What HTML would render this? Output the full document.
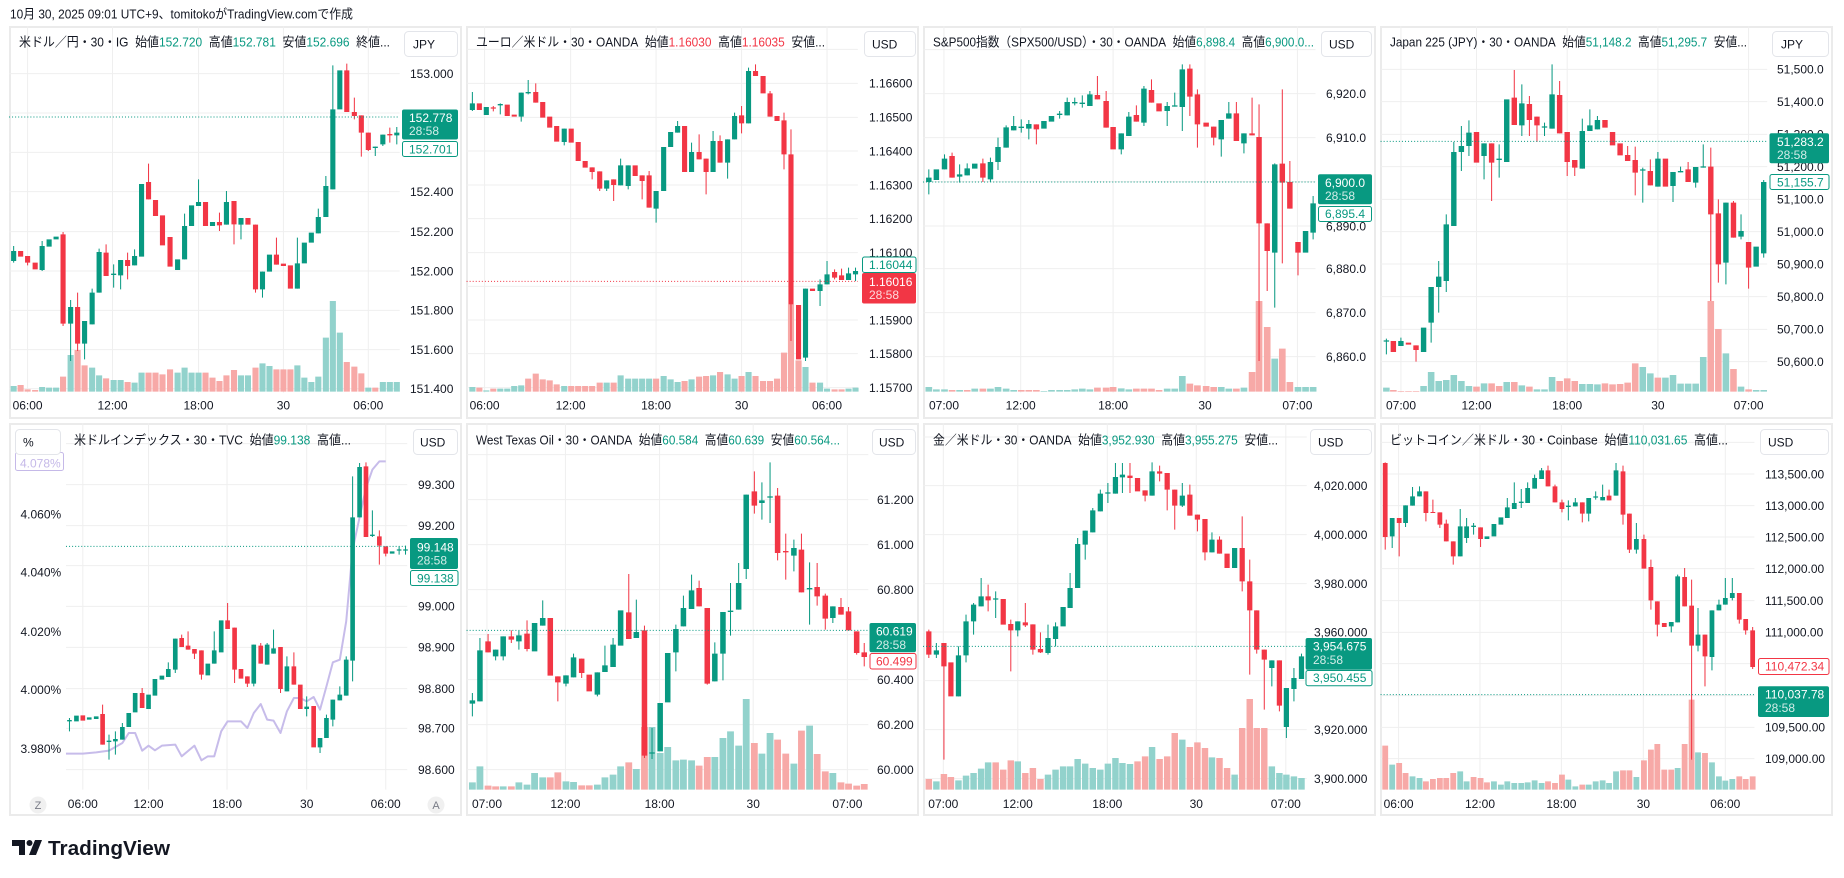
<!DOCTYPE html>
<html><head><meta charset="utf-8"><title>TradingView snapshot</title>
<style>
html,body{margin:0;padding:0;background:#fff;}
svg{display:block;}
text{font-family:"Liberation Sans","Noto Sans CJK JP",sans-serif;}
</style></head><body>
<svg width="1844" height="878" viewBox="0 0 1844 878" xmlns="http://www.w3.org/2000/svg">
<rect width="1844" height="878" fill="#fff"/>
<text x="10" y="18.5" font-size="13" fill="#131722" textLength="343" lengthAdjust="spacingAndGlyphs">10月 30, 2025 09:01 UTC+9、tomitokoがTradingView.comで作成</text>

<g fill="#fff" stroke="#ebebeb" stroke-width="2">
<rect x="10" y="27" width="451" height="391"/>
<rect x="467" y="27" width="451" height="391"/>
<rect x="924" y="27" width="451" height="391"/>
<rect x="1381" y="27" width="451" height="391"/>
<rect x="10" y="424" width="451" height="391"/>
<rect x="467" y="424" width="451" height="391"/>
<rect x="924" y="424" width="451" height="391"/>
<rect x="1381" y="424" width="451" height="391"/>
</g>

<!-- ===== Group A: panels 1 & 2 ===== -->
<g transform="matrix(0.5814 0 0 0.33333 9 26)" fill="none" stroke-linecap="butt">
<path stroke="#efefef" stroke-width="3" d="M0 143H672M0 261H672M0 379H672M0 497H672M0 617H672M0 735H672M0 853H672M0 971H672M0 1088H672M787 70H1460M787 172H1460M787 274H1460M787 375H1460M787 477H1460M787 578H1460M787 680H1460M787 781H1460M787 882H1460M787 983H1460M787 1085H1460"/>
<path stroke="#efefef" stroke-width="1.75" d="M32 0V1100M178 0V1100M326 0V1100M472 0V1100M618 0V1100M818 0V1100M966 0V1100M1113 0V1100M1260 0V1100M1407 0V1100"/>
<!-- P1 volume -->
<path stroke="#92d2cc" stroke-width="10.5" d="M8 1080V1097M57 1083V1097M69 1085V1097M81 1085V1097M106 987V1097M143 1025V1097M155 1048V1097M180 1062V1097M192 1062V1097M216 1070V1097M228 1040V1097M290 1040V1097M302 1025V1097M314 1040V1097M326 1040V1097M399 1048V1097M411 1048V1097M436 1012V1097M448 1020V1097M496 1018V1097M508 1055V1097M520 1068V1097M532 1052V1097M545 935V1097M557 825V1097M569 920V1097M618 1085V1097M643 1068V1097M655 1068V1097M667 1068V1097"/>
<path stroke="#f7a9a7" stroke-width="10.5" d="M20 1077V1097M32 1090V1097M45 1092V1097M93 1052V1097M118 972V1097M130 1018V1097M167 1057V1097M204 1068V1097M240 1040V1097M252 1040V1097M264 1045V1097M277 1030V1097M338 1040V1097M350 1055V1097M362 1065V1097M374 1048V1097M387 1032V1097M424 1025V1097M460 1030V1097M472 1030V1097M484 1030V1097M581 1008V1097M594 1022V1097M606 1042V1097M630 1085V1097"/>
<!-- P2 volume -->
<path stroke="#92d2cc" stroke-width="10.5" d="M797 1083V1097M821 1093V1097M845 1088V1097M857 1088V1097M869 1080V1097M881 1078V1097M955 1080V1097M1028 1070V1097M1052 1048V1097M1065 1058V1097M1077 1058V1097M1089 1058V1097M1101 1058V1097M1126 1050V1097M1138 1060V1097M1150 1068V1097M1174 1060V1097M1211 1048V1097M1236 1045V1097M1248 1058V1097M1272 1038V1097M1370 1023V1097M1395 1070V1097M1407 1088V1097M1444 1088V1097M1456 1085V1097"/>
<path stroke="#f7a9a7" stroke-width="10.5" d="M809 1085V1097M833 1088V1097M893 1058V1097M906 1043V1097M918 1060V1097M930 1063V1097M942 1075V1097M967 1080V1097M979 1080V1097M991 1080V1097M1003 1080V1097M1016 1070V1097M1040 1070V1097M1113 1058V1097M1162 1065V1097M1187 1052V1097M1199 1050V1097M1223 1038V1097M1260 1050V1097M1284 1050V1097M1297 1065V1097M1309 1065V1097M1321 1058V1097M1333 980V1097M1345 835V1097M1358 1003V1097M1382 1070V1097M1420 1090V1097M1432 1090V1097"/>
<!-- P1 candles -->
<path stroke="#089981" stroke-width="1.75" d="M8 660V710M57 645V735M106 822V1005M130 885V1000M143 788V895M155 668V800M180 715V785M192 702V790M216 670V718M302 563V700M326 460V540M374 495V596M399 576V640M436 737V815M496 635V788M532 548V622M545 450V573M557 118V490M630 362V390M643 326V360M667 303V355"/>
<path stroke="#f23645" stroke-width="1.75" d="M32 690V718M93 618V900M118 800V975M167 655V750M204 680V760M240 413V520M362 560V615M387 525V655M424 596V800M460 635V716M581 113V258M594 215V280M606 268V392M618 320V375M655 305V350"/>
<path stroke="#089981" stroke-width="8.8" d="M8 675V705M57 660V732M69 640V662M81 632V640M106 843V893M130 885V953M143 800V895M155 678V800M180 743V747M192 702V748M216 690V718M228 474V692M290 700V732M302 600V700M314 538V600M326 528V540M350 588V600M374 528V596M399 576V596M436 737V790M448 686V737M496 712V788M508 650V712M520 620V650M532 573V622M545 480V573M557 250V490M569 133V250M630 362V366M643 326V355M667 320V328"/>
<path stroke="#f23645" stroke-width="8.8" d="M20 675V692M32 690V710M45 710V730M93 625V893M118 843V953M167 680V750M204 702V720M240 468V520M252 522V570M264 568V658M277 633V722M338 528V600M362 588V598M387 525V595M411 576V596M424 596V790M460 686V716M472 713V720M484 718V788M581 133V258M594 258V270M606 268V320M618 320V372M655 324V328"/>
<!-- P2 candles -->
<path stroke="#089981" stroke-width="1.75" d="M797 198V255M845 232V265M881 200V287M893 162V205M955 308V358M1028 463V495M1052 398V478M1065 418V490M1113 495V590M1150 285V320M1174 350V438M1211 315V438M1236 340V458M1248 260V340M1272 125V292M1370 788V1005M1395 760V840M1407 705V775M1444 725V762M1456 725V765"/>
<path stroke="#f23645" stroke-width="1.75" d="M833 240V256M906 172V230M1003 424V460M1016 436V495M1040 460V525M1089 448V520M1101 435V545M1187 325V400M1199 398V505M1223 328V410M1260 240V322M1284 115V150M1309 195V272M1333 260V430M1345 310V945M1420 730V760M1432 728V762"/>
<path stroke="#089981" stroke-width="8.8" d="M797 232V252M821 243V267M845 234V238M881 200V272M893 198V202M955 308V348M1028 463V488M1052 418V478M1065 418V480M1113 495V548M1126 363V495M1138 318V363M1150 300V320M1174 378V438M1211 345V438M1236 340V410M1248 270V340M1272 135V292M1370 788V995M1395 775V795M1407 745V775M1444 742V762M1456 735V745"/>
<path stroke="#f23645" stroke-width="8.8" d="M809 232V252M833 244V248M857 236V270M869 266V272M906 198V230M918 228V275M930 272V305M942 300V347M967 308V350M979 348V405M991 405V425M1003 424V438M1016 436V488M1040 460V477M1077 418V450M1089 448V465M1101 448V545M1162 300V438M1187 378V400M1199 398V438M1223 345V410M1260 268V292M1284 135V150M1297 150V202M1309 202V272M1321 270V285M1333 283V385M1345 385V835M1358 837V1000M1382 788V795M1420 738V755M1432 748V762"/>
<path stroke="#089981" stroke-width="3" stroke-dasharray="1.75 3.5" d="M0 273H672"/>
<path stroke="#f23645" stroke-width="3" stroke-dasharray="1.75 3.5" d="M787 766H1460"/>
</g>

<!-- ===== Group B: panels 3 & 4 ===== -->
<g transform="matrix(0.5814 0 0 0.33333 923 26)" fill="none" stroke-linecap="butt">
<path stroke="#efefef" stroke-width="3" d="M0 71H675M0 203H675M0 335H675M0 467H675M0 600H675M0 728H675M0 860H675M0 992H675M787 130H1452M787 227H1452M787 325H1452M787 422H1452M787 520H1452M787 617H1452M787 714H1452M787 812H1452M787 910H1452M787 1007H1452"/>
<path stroke="#efefef" stroke-width="1.75" d="M36 0V1100M168 0V1100M327 0V1100M485 0V1100M644 0V1100M822 0V1100M952 0V1100M1108 0V1100M1264 0V1100M1420 0V1100"/>
<!-- P3 volume -->
<path stroke="#92d2cc" stroke-width="11.5" d="M10 1083V1097M23 1090V1097M37 1090V1097M63 1092V1097M89 1088V1097M116 1088V1097M129 1083V1097M143 1088V1097M156 1092V1097M208 1095V1097M221 1092V1097M235 1092V1097M248 1092V1097M261 1090V1097M274 1088V1097M287 1090V1097M341 1087V1097M354 1090V1097M420 1088V1097M433 1088V1097M446 1050V1097M513 1083V1097M526 1088V1097M552 1085V1097M605 998V1097M645 1083V1097M658 1083V1097M671 1083V1097"/>
<path stroke="#f7a9a7" stroke-width="11.5" d="M50 1092V1097M76 1092V1097M103 1088V1097M169 1092V1097M182 1092V1097M195 1092V1097M300 1085V1097M315 1085V1097M327 1083V1097M367 1088V1097M380 1088V1097M393 1088V1097M406 1092V1097M459 1073V1097M472 1078V1097M487 1080V1097M500 1083V1097M539 1088V1097M566 1038V1097M578 825V1097M592 903V1097M618 968V1097M631 1068V1097"/>
<!-- P4 volume -->
<path stroke="#92d2cc" stroke-width="11.3" d="M797 1085V1097M861 1080V1097M874 1038V1097M887 1065V1097M900 1062V1097M913 1047V1097M926 1065V1097M939 1080V1097M965 1072V1097M1004 1068V1097M1030 1078V1097M1056 1090V1097M1069 1090V1097M1082 1053V1097M1134 1074V1097M1147 1074V1097M1160 1075V1097M1238 1023V1097M1251 1042V1097M1277 1055V1097M1290 1047V1097M1303 1073V1097M1316 1073V1097M1329 1073V1097M1342 993V1097M1381 982V1097M1407 1082V1097M1433 1092V1097M1446 1092V1097"/>
<path stroke="#f7a9a7" stroke-width="11.3" d="M809 1092V1097M822 1095V1097M835 1095V1097M848 1095V1097M952 1082V1097M978 1072V1097M991 1080V1097M1017 1068V1097M1043 1082V1097M1095 1065V1097M1108 1057V1097M1121 1065V1097M1173 1072V1097M1186 1075V1097M1199 1074V1097M1212 1070V1097M1225 1012V1097M1264 1055V1097M1355 825V1097M1368 909V1097M1394 1029V1097M1420 1090V1097"/>
<!-- P3 candles -->
<path stroke="#089981" stroke-width="1.75" d="M10 430V505M37 385V430M63 415V470M76 412V448M116 395V468M129 335V432M143 298V365M156 270V313M169 280V320M182 282V340M235 255V278M248 215V268M261 215V238M274 208V245M287 195V240M341 322V385M354 258V330M380 180V300M420 228V300M433 200V242M446 115V315M513 282V392M526 228V278M552 322V382M605 412V845M671 510V640"/>
<path stroke="#f23645" stroke-width="1.75" d="M50 380V455M103 398V468M195 295V355M300 150V220M315 195V305M367 238V287M393 160V230M459 115V270M472 190V365M500 302V358M539 228V345M566 215V328M578 235V1005M592 592V795M618 190V712M631 405V548M645 648V748"/>
<path stroke="#089981" stroke-width="9.4" d="M10 455V468M23 430V462M37 398V430M63 445V452M76 427V448M89 413V428M116 408V460M129 363V408M143 304V365M156 300V313M169 302V306M182 294V308M208 285V308M221 270V287M235 263V267M248 228V268M261 228V232M274 230V234M287 205V240M341 322V370M354 272V330M380 188V290M420 240V255M433 238V242M446 130V243M513 282V340M526 262V278M552 322V352M605 415V680M658 615V680M671 532V620"/>
<path stroke="#f23645" stroke-width="9.4" d="M50 390V455M103 412V455M195 295V310M300 207V220M315 225V305M327 303V370M367 267V287M393 192V230M406 232V256M459 128V212M472 205V295M487 290V302M500 302V335M539 262V345M566 322V328M578 333V592M592 592V675M618 413V470M631 468V548M645 648V680"/>
<!-- P4 candles -->
<path stroke="#089981" stroke-width="1.75" d="M797 938V985M822 935V960M874 783V950M887 705V860M900 565V798M913 348V600M926 300V435M939 283V390M965 352V460M991 355V455M1030 175V330M1069 290V330M1082 115V308M1134 278V428M1147 250V315M1160 270V310M1238 425V530M1264 378V482M1290 438V528M1303 422V439M1329 423V485M1342 355V425M1381 530V775M1407 565V640M1446 462V695"/>
<path stroke="#f23645" stroke-width="1.75" d="M848 958V1007M978 352V525M1017 132V297M1043 210V330M1056 272V348M1095 165V322M1108 318V450M1121 402V450M1212 360V405M1225 362V508M1251 400V478M1316 408V468M1355 365V825M1368 520V770M1394 525V635M1420 648V788"/>
<path stroke="#089981" stroke-width="9.3" d="M797 943V947M822 945V960M861 905V978M874 783V890M887 752V783M900 595V765M913 378V600M926 360V378M939 320V360M965 352V390M991 398V402M1004 220V408M1030 232V298M1069 301V305M1082 205V308M1134 315V428M1147 298V315M1160 282V310M1238 430V434M1264 398V482M1290 438V480M1303 435V439M1329 423V470M1342 421V425M1381 530V710M1407 615V632M1433 662V722M1446 468V682"/>
<path stroke="#f23645" stroke-width="9.3" d="M809 945V978M835 950V956M848 958V972M952 318V410M978 352V410M1017 215V297M1043 234V282M1056 272V298M1095 207V322M1108 318V408M1121 402V425M1173 282V305M1186 318V358M1199 352V388M1212 387V405M1225 402V440M1251 435V478M1277 398V482M1316 430V468M1355 422V565M1368 562V715M1394 530V635M1420 648V725"/>
<path stroke="#089981" stroke-width="3" stroke-dasharray="1.75 3.5" d="M0 468H675M787 346H1452"/>
</g>

<!-- ===== Group C: panels 5 & 6 ===== -->
<g transform="matrix(0.5814 0 0 0.33333 9 423)" fill="none" stroke-linecap="butt">
<path stroke="#efefef" stroke-width="3" d="M98 62H685M98 185H685M98 308H685M98 428H685M98 550H685M98 673H685M98 797H685M98 916H685M98 1040H685M787 95H1478M787 230H1478M787 365H1478M787 500H1478M787 635H1478M787 770H1478M787 905H1478M787 1040H1478"/>
<path stroke="#efefef" stroke-width="1.75" d="M127 0V1100M240 0V1100M375 0V1100M512 0V1100M648 0V1100M822 0V1100M957 0V1100M1119 0V1100M1280 0V1100M1442 0V1100"/>
<!-- P5 yield line -->
<polyline vector-effect="non-scaling-stroke" stroke="#c7bcea" stroke-width="2" stroke-linejoin="round" points="98,992 127,992 150,988 172,983 195,960 206,930 217,930 229,983 240,968 251,982 263,968 286,965 297,1000 319,968 331,1012 342,1000 353,1000 365,925 376,895 399,895 410,915 421,870 433,843 444,890 455,893 467,930 478,865 490,825 501,825 512,835 524,822 535,860 546,790 557,718 569,710 580,595 591,380 603,283 614,195 625,140 637,115 648,115"/>
<!-- P6 volume -->
<path stroke="#92d2cc" stroke-width="11.7" d="M797 1078V1100M810 1030V1100M850 1090V1100M877 1078V1100M891 1085V1100M904 1050V1100M918 1063V1100M958 1075V1100M971 1077V1100M1012 1085V1100M1025 1063V1100M1039 1055V1100M1052 1030V1100M1079 1038V1100M1106 912V1100M1120 990V1100M1133 972V1100M1147 1012V1100M1160 1010V1100M1174 1012V1100M1214 1002V1100M1228 945V1100M1241 925V1100M1255 968V1100M1268 828V1100M1295 992V1100M1309 930V1100M1350 1022V1100M1377 908V1100M1417 1050V1100"/>
<path stroke="#f7a9a7" stroke-width="11.7" d="M824 1088V1100M837 1090V1100M864 1090V1100M931 1063V1100M944 1048V1100M985 1087V1100M998 1087V1100M1066 1018V1100M1093 912V1100M1187 1028V1100M1201 1002V1100M1282 960V1100M1322 950V1100M1336 992V1100M1363 923V1100M1390 993V1100M1404 1045V1100M1431 1078V1100M1444 1082V1100M1458 1088V1100M1471 1083V1100"/>
<!-- P5 candles -->
<path stroke="#089981" stroke-width="1.75" d="M104 885V925M172 935V1010M183 925V995M195 900V950M274 718V762M286 647V750M353 625V722M421 665V790M444 660V725M455 620V692M478 700V805M512 820V880M535 945V990M546 875V945M557 830V910M569 790V832M580 700V818M591 160V775M603 120V283M625 262V342M671 370V395M682 368V395"/>
<path stroke="#f23645" stroke-width="1.75" d="M161 845V965M229 795V855M297 635V672M308 625V680M319 678V708M331 682V770M376 540V618M388 614V780M410 760V792M433 660V722M467 672V810M490 688V785M614 118V342M637 322V425M648 370V400"/>
<path stroke="#089981" stroke-width="8" d="M104 891V895M116 878V895M138 883V890M150 880V888M172 953V957M183 948V955M195 912V950M206 870V912M217 810V868M240 815V858M251 768V818M263 758V770M274 738V762M286 647V740M342 722V757M353 682V722M365 592V688M421 665V782M444 665V725M455 676V692M478 730V805M512 851V858M535 945V973M546 885V945M557 830V890M569 815V832M580 710V818M591 283V713M603 132V283M625 335V339M659 385V392M671 379V383M682 379V383"/>
<path stroke="#f23645" stroke-width="8" d="M127 877V893M161 873V965M229 810V855M297 645V672M308 668V680M319 678V692M331 682V755M376 592V618M388 614V740M399 738V767M410 760V782M433 668V722M467 672V798M490 730V785M501 785V858M524 849V973M614 130V342M637 340V368M648 370V392"/>
<!-- P6 candles -->
<path stroke="#089981" stroke-width="1.75" d="M797 810V880M810 645V835M837 680V712M850 640V712M877 622V680M918 532V608M958 757V790M971 692V763M1012 748V820M1025 668V747M1039 645V732M1079 530V645M1106 915V1008M1147 605V745M1160 518V610M1174 455V558M1214 658V775M1228 567V772M1241 480V638M1255 420V560M1268 215V468M1295 178V290M1309 118V300M1350 350V445M1377 418V605M1417 550V600"/>
<path stroke="#f23645" stroke-width="1.75" d="M824 633V688M864 622V660M891 592V685M944 760V835M985 707V765M1066 453V648M1093 608V1005M1187 473V550M1201 555V785M1282 145V272M1322 195V412M1336 332V470M1363 332V508M1390 420V548M1404 512V620M1431 525V575M1444 552V622M1458 625V695M1471 660V730"/>
<path stroke="#089981" stroke-width="9.5" d="M797 832V842M810 682V835M837 680V700M850 640V700M877 637V655M904 600V685M918 585V608M958 757V782M971 703V763M1012 748V815M1025 727V747M1039 665V732M1052 562V668M1079 627V645M1106 988V992M1120 840V985M1133 690V838M1147 618V688M1160 555V610M1174 502V558M1214 692V775M1228 567V692M1241 563V567M1255 480V560M1268 215V438M1295 232V240M1309 220V224M1350 375V398M1377 495V499M1417 550V585"/>
<path stroke="#f23645" stroke-width="9.5" d="M824 655V688M864 640V650M891 632V678M931 585V758M944 760V778M985 707V750M998 755V805M1066 568V648M1093 622V998M1187 495V550M1201 555V782M1282 205V248M1322 218V390M1336 384V388M1363 380V508M1390 492V520M1404 518V587M1431 552V575M1444 565V622M1458 625V690M1471 688V702"/>
<path stroke="#089981" stroke-width="3" stroke-dasharray="1.75 3.5" d="M98 370H685M787 622H1478"/>
</g>

<!-- ===== Group D: panels 7 & 8 ===== -->
<g transform="matrix(0.5814 0 0 0.33333 923 423)" fill="none" stroke-linecap="butt">
<path stroke="#efefef" stroke-width="3" d="M0 42H660M0 188H660M0 335H660M0 482H660M0 627H660M0 773H660M0 920H660M0 1067H660M787 58H1430M787 153H1430M787 248H1430M787 342H1430M787 437H1430M787 533H1430M787 628H1430M787 722H1430M787 818H1430M787 913H1430M787 1007H1430"/>
<path stroke="#efefef" stroke-width="1.75" d="M35 0V1100M163 0V1100M317 0V1100M470 0V1100M624 0V1100M818 0V1100M958 0V1100M1098 0V1100M1239 0V1100M1380 0V1100"/>
<!-- P7 volume -->
<path stroke="#92d2cc" stroke-width="11.1" d="M23 1075V1100M61 1072V1100M74 1058V1100M87 1050V1100M100 1037V1100M112 1018V1100M163 1015V1100M215 1055V1100M228 1040V1100M241 1030V1100M253 1030V1100M266 1008V1100M279 1022V1100M292 1035V1100M305 1040V1100M318 1022V1100M331 1005V1100M343 1020V1100M356 1023V1100M394 972V1100M446 950V1100M497 1003V1100M536 1055V1100M600 1030V1100M613 1050V1100M625 1055V1100M638 1060V1100M651 1065V1100"/>
<path stroke="#f7a9a7" stroke-width="11.1" d="M10 1068V1100M36 1053V1100M48 1062V1100M125 1018V1100M138 1040V1100M151 1012V1100M176 1050V1100M189 1035V1100M202 1068V1100M369 1015V1100M382 1000V1100M407 1008V1100M420 1000V1100M433 930V1100M459 972V1100M472 958V1100M485 975V1100M510 1005V1100M523 1035V1100M549 915V1100M562 828V1100M574 915V1100M587 915V1100"/>
<!-- P8 volume -->
<path stroke="#92d2cc" stroke-width="10" d="M807 1025V1100M842 1060V1100M854 1065V1100M924 1045V1100M935 1075V1100M982 1075V1100M994 1085V1100M1005 1075V1100M1017 1080V1100M1029 1080V1100M1040 1078V1100M1052 1072V1100M1064 1080V1100M1110 1070V1100M1122 1090V1100M1145 1085V1100M1157 1075V1100M1169 1072V1100M1180 1080V1100M1192 1045V1100M1227 1062V1100M1298 1035V1100M1333 988V1100M1357 1018V1100M1369 1060V1100M1380 1073V1100M1392 1068V1100"/>
<path stroke="#f7a9a7" stroke-width="10" d="M795 968V1100M819 1020V1100M830 1050V1100M865 1075V1100M877 1068V1100M889 1065V1100M900 1065V1100M912 1050V1100M947 1062V1100M959 1065V1100M970 1078V1100M1075 1075V1100M1087 1080V1100M1099 1055V1100M1134 1085V1100M1204 1042V1100M1215 1042V1100M1240 1012V1100M1252 980V1100M1263 963V1100M1275 1040V1100M1287 1040V1100M1310 963V1100M1322 830V1100M1345 990V1100M1404 1060V1100M1415 1068V1100M1427 1060V1100"/>
<!-- P7 candles -->
<path stroke="#089981" stroke-width="1.75" d="M23 660V705M61 670V820M74 575V718M87 540V635M100 465V550M125 505V585M163 595V640M215 605V695M228 598V670M253 450V555M266 345V495M279 323V410M292 255V328M305 200V265M318 180V240M331 120V212M343 120V210M394 118V218M446 180V252M497 328V388M600 712V790M625 795V945M638 735V835M651 692V768"/>
<path stroke="#f23645" stroke-width="1.75" d="M10 620V705M36 660V1010M112 485V565M151 590V745M176 540V612M189 604V695M202 628V690M356 120V210M382 202V235M407 128V175M420 150V262M433 200V320M459 185V278M472 275V325M485 288V412M510 340V392M549 280V505M562 410V755M574 562V692M587 680V860M613 712V865"/>
<path stroke="#089981" stroke-width="9" d="M23 682V695M61 697V820M74 595V697M87 545V595M100 520V550M125 526V530M163 595V622M215 645V690M228 610V648M241 552V610M253 495V555M266 363V495M279 323V365M292 262V328M305 212V265M318 208V212M331 162V212M343 155V163M394 145V218M446 218V248M497 350V388M536 375V435M600 712V735M625 795V912M638 765V798M651 700V768"/>
<path stroke="#f23645" stroke-width="9" d="M10 625V695M36 660V730M48 718V820M112 520V532M138 528V605M151 603V622M176 598V607M189 604V680M202 678V688M356 158V165M369 165V205M382 202V218M407 145V152M420 150V200M433 200V248M459 215V278M472 275V290M485 288V388M510 350V392M523 392V435M549 375V475M562 475V562M574 562V680M587 680V710M613 712V848"/>
<!-- P8 candles -->
<path stroke="#089981" stroke-width="1.75" d="M807 285V375M830 247V312M842 192V248M854 190V220M924 258V400M935 285V360M947 300V335M1005 225V285M1017 178V258M1029 198V255M1040 178V240M1052 155V197M1064 135V168M1110 232V292M1122 225V250M1145 225V295M1157 205V230M1169 185V232M1192 120V218M1227 300V392M1287 597V628M1298 455V598M1333 555V685M1357 562V742M1369 530V562M1380 465V545M1392 465V532"/>
<path stroke="#f23645" stroke-width="1.75" d="M795 118V380M819 285V400M865 205V295M877 230V270M889 268V315M900 290V355M912 355V425M959 313V372M1075 128V190M1087 185V238M1099 230V268M1134 238V298M1180 200V232M1204 128V305M1215 272V390M1240 335V437M1252 410V560M1263 535V640M1310 435V550M1322 470V1010M1345 635V790M1404 510V602M1415 588V635M1427 612V738"/>
<path stroke="#089981" stroke-width="8.2" d="M807 285V340M830 247V300M842 220V248M854 205V220M924 310V400M935 310V345M947 308V312M970 340V348M982 303V340M994 283V305M1005 253V285M1017 240V258M1029 236V240M1040 195V240M1052 165V197M1064 142V168M1110 248V252M1122 238V250M1145 225V272M1157 220V224M1169 222V232M1192 142V218M1227 348V380M1287 597V610M1298 460V598M1333 635V668M1357 562V702M1369 545V562M1380 525V545M1392 510V525"/>
<path stroke="#f23645" stroke-width="8.2" d="M795 120V342M819 285V300M865 205V270M877 267V270M889 268V305M900 302V355M912 355V400M959 313V348M1075 142V190M1087 190V238M1099 238V258M1134 238V272M1180 218V232M1204 145V275M1215 272V380M1240 348V437M1252 432V532M1263 535V605M1275 600V612M1310 462V550M1322 548V668M1345 635V700M1404 510V590M1415 588V622M1427 622V732"/>
<path stroke="#089981" stroke-width="3" stroke-dasharray="1.75 3.5" d="M0 670H660M787 815H1430"/>
</g>

<!-- ===== Legends ===== -->
<g font-size="13" fill="#131722">
<text x="19" y="46.5" textLength="371" lengthAdjust="spacingAndGlyphs">米ドル／円・30・IG&#160;&#160;始値<tspan fill="#089981">152.720</tspan>&#160;&#160;高値<tspan fill="#089981">152.781</tspan>&#160;&#160;安値<tspan fill="#089981">152.696</tspan>&#160;&#160;終値...</text>
<text x="476" y="46.5" textLength="349" lengthAdjust="spacingAndGlyphs">ユーロ／米ドル・30・OANDA&#160;&#160;始値<tspan fill="#f23645">1.16030</tspan>&#160;&#160;高値<tspan fill="#f23645">1.16035</tspan>&#160;&#160;安値...</text>
<text x="933" y="46.5" textLength="381" lengthAdjust="spacingAndGlyphs">S&amp;P500指数（SPX500/USD）・30・OANDA&#160;&#160;始値<tspan fill="#089981">6,898.4</tspan>&#160;&#160;高値<tspan fill="#089981">6,900.0...</tspan></text>
<text x="1390" y="46.5" textLength="357" lengthAdjust="spacingAndGlyphs">Japan 225 (JPY)・30・OANDA&#160;&#160;始値<tspan fill="#089981">51,148.2</tspan>&#160;&#160;高値<tspan fill="#089981">51,295.7</tspan>&#160;&#160;安値...</text>
<text x="74" y="444.5" textLength="277" lengthAdjust="spacingAndGlyphs">米ドルインデックス・30・TVC&#160;&#160;始値<tspan fill="#089981">99.138</tspan>&#160;&#160;高値...</text>
<text x="476" y="444.5" textLength="364" lengthAdjust="spacingAndGlyphs">West Texas Oil・30・OANDA&#160;&#160;始値<tspan fill="#089981">60.584</tspan>&#160;&#160;高値<tspan fill="#089981">60.639</tspan>&#160;&#160;安値<tspan fill="#089981">60.564...</tspan></text>
<text x="933" y="444.5" textLength="345" lengthAdjust="spacingAndGlyphs">金／米ドル・30・OANDA&#160;&#160;始値<tspan fill="#089981">3,952.930</tspan>&#160;&#160;高値<tspan fill="#089981">3,955.275</tspan>&#160;&#160;安値...</text>
<text x="1390" y="444.5" textLength="338" lengthAdjust="spacingAndGlyphs">ビットコイン／米ドル・30・Coinbase&#160;&#160;始値<tspan fill="#089981">110,031.65</tspan>&#160;&#160;高値...</text>
</g>

<!-- ===== Currency boxes ===== -->
<g fill="#fff" stroke="#e3e5ea" stroke-width="1">
<rect x="404.5" y="31.5" width="53" height="25" rx="4"/>
<rect x="864.5" y="31.5" width="51" height="25" rx="4"/>
<rect x="1321.5" y="31.5" width="50" height="25" rx="4"/>
<rect x="1772.5" y="31.5" width="56" height="25" rx="4"/>
<rect x="413.5" y="429.5" width="44" height="25" rx="4"/>
<rect x="872.5" y="429.5" width="43" height="25" rx="4"/>
<rect x="1310.5" y="429.5" width="61" height="25" rx="4"/>
<rect x="1760.5" y="429.5" width="68" height="25" rx="4"/>
</g>
<g font-size="12" fill="#131722">
<text x="413" y="48.5">JPY</text>
<text x="872" y="48.5">USD</text>
<text x="1329" y="48.5">USD</text>
<text x="1781" y="48.5">JPY</text>
<text x="420" y="446.5">USD</text>
<text x="879" y="446.5">USD</text>
<text x="1318" y="446.5">USD</text>
<text x="1768" y="446.5">USD</text>
</g>

<!-- ===== Price axis labels ===== -->
<g font-size="12" fill="#131722">
<text x="410" y="78">153.000</text>
<text x="410" y="196">152.400</text>
<text x="410" y="236">152.200</text>
<text x="410" y="275.3">152.000</text>
<text x="410" y="314.6">151.800</text>
<text x="410" y="354">151.600</text>
<text x="410" y="393">151.400</text>

<text x="869" y="87.6">1.16600</text>
<text x="869" y="121.6">1.16500</text>
<text x="869" y="155.3">1.16400</text>
<text x="869" y="189.3">1.16300</text>
<text x="869" y="223">1.16200</text>
<text x="869" y="257">1.16100</text>
<text x="869" y="324.3">1.15900</text>
<text x="869" y="358">1.15800</text>
<text x="869" y="392">1.15700</text>

<text x="1326" y="98">6,920.0</text>
<text x="1326" y="142">6,910.0</text>
<text x="1326" y="230.3">6,890.0</text>
<text x="1326" y="273">6,880.0</text>
<text x="1326" y="317">6,870.0</text>
<text x="1326" y="361">6,860.0</text>

<text x="1777" y="73.6">51,500.0</text>
<text x="1777" y="106">51,400.0</text>
<text x="1777" y="138.6">51,300.0</text>
<text x="1777" y="171">51,200.0</text>
<text x="1777" y="203.6">51,100.0</text>
<text x="1777" y="236">51,000.0</text>
<text x="1777" y="268.3">50,900.0</text>
<text x="1777" y="301">50,800.0</text>
<text x="1777" y="333.6">50,700.0</text>
<text x="1777" y="366">50,600.0</text>

<text x="418" y="489">99.300</text>
<text x="418" y="530">99.200</text>
<text x="418" y="610.6">99.000</text>
<text x="418" y="651.6">98.900</text>
<text x="418" y="693">98.800</text>
<text x="418" y="732.6">98.700</text>
<text x="418" y="774">98.600</text>

<text x="20.5" y="518.5">4.060%</text>
<text x="20.5" y="576.6">4.040%</text>
<text x="20.5" y="636">4.020%</text>
<text x="20.5" y="694">4.000%</text>
<text x="20.5" y="753">3.980%</text>

<text x="877" y="504">61.200</text>
<text x="877" y="549">61.000</text>
<text x="877" y="594">60.800</text>
<text x="877" y="684">60.400</text>
<text x="877" y="729">60.200</text>
<text x="877" y="774">60.000</text>

<text x="1314" y="490">4,020.000</text>
<text x="1314" y="539">4,000.000</text>
<text x="1314" y="588">3,980.000</text>
<text x="1314" y="636.3">3,960.000</text>
<text x="1314" y="734">3,920.000</text>
<text x="1314" y="783">3,900.000</text>

<text x="1765" y="478.3">113,500.00</text>
<text x="1765" y="510">113,000.00</text>
<text x="1765" y="541.3">112,500.00</text>
<text x="1765" y="573">112,000.00</text>
<text x="1765" y="605">111,500.00</text>
<text x="1765" y="636.6">111,000.00</text>
<text x="1765" y="731.6">109,500.00</text>
<text x="1765" y="763">109,000.00</text>
</g>

<!-- P5 left-axis boxes -->
<rect x="15.5" y="452.5" width="48" height="18" rx="2" fill="#fff" stroke="#c5b9e8"/>
<text x="20" y="467.5" font-size="12" fill="#c5b9e8">4.078%</text>
<rect x="15.5" y="429.5" width="45" height="25" rx="4" fill="#fff" stroke="#e3e5ea"/>
<text x="23" y="446.5" font-size="12" fill="#131722">%</text>

<!-- ===== Current price labels ===== -->
<g font-size="12">
<rect x="402" y="109.5" width="56" height="30" rx="2" fill="#089981"/>
<text x="409" y="122" fill="#fff">152.778</text>
<text x="409" y="135" fill="#fff" fill-opacity="0.82">28:58</text>
<rect x="402.5" y="141.5" width="55" height="15" rx="2" fill="#fff" stroke="#089981"/>
<text x="409" y="153.3" fill="#089981">152.701</text>

<rect x="862.5" y="257" width="53.5" height="15.5" rx="2" fill="#fff" stroke="#089981"/>
<text x="869" y="269" fill="#089981">1.16044</text>
<rect x="862" y="273" width="54" height="30.5" rx="2" fill="#f23645"/>
<text x="869" y="286" fill="#fff">1.16016</text>
<text x="869" y="299" fill="#fff" fill-opacity="0.82">28:58</text>

<rect x="1318" y="174.3" width="54" height="30" rx="2" fill="#089981"/>
<text x="1325" y="187" fill="#fff">6,900.0</text>
<text x="1325" y="200" fill="#fff" fill-opacity="0.82">28:58</text>
<rect x="1318.5" y="206.5" width="53" height="15" rx="2" fill="#fff" stroke="#089981"/>
<text x="1325" y="218" fill="#089981">6,895.4</text>

<rect x="1769.5" y="133.3" width="59.5" height="30" rx="2" fill="#089981"/>
<text x="1777" y="146" fill="#fff">51,283.2</text>
<text x="1777" y="159" fill="#fff" fill-opacity="0.82">28:58</text>
<rect x="1770" y="174.5" width="59" height="15" rx="2" fill="#fff" stroke="#089981"/>
<text x="1777" y="186.3" fill="#089981">51,155.7</text>

<rect x="410" y="538" width="48" height="31" rx="2" fill="#089981"/>
<text x="417" y="551.3" fill="#fff">99.148</text>
<text x="417" y="564.6" fill="#fff" fill-opacity="0.82">28:58</text>
<rect x="410.5" y="570.5" width="47.5" height="15" rx="2" fill="#fff" stroke="#089981"/>
<text x="417" y="582.3" fill="#089981">99.138</text>

<rect x="869.5" y="623" width="46.5" height="29.3" rx="2" fill="#089981"/>
<text x="876" y="635.5" fill="#fff">60.619</text>
<text x="876" y="648.8" fill="#fff" fill-opacity="0.82">28:58</text>
<rect x="870" y="653.5" width="46" height="15.5" rx="2" fill="#fff" stroke="#f23645"/>
<text x="876" y="665.6" fill="#f23645">60.499</text>

<rect x="1305.6" y="638" width="66.4" height="31.7" rx="2" fill="#089981"/>
<text x="1313" y="650.5" fill="#fff">3,954.675</text>
<text x="1313" y="664" fill="#fff" fill-opacity="0.82">28:58</text>
<rect x="1306" y="670.5" width="66" height="15.2" rx="2" fill="#fff" stroke="#089981"/>
<text x="1313" y="682" fill="#089981">3,950.455</text>

<rect x="1758.5" y="658.5" width="70.5" height="16" rx="2" fill="#fff" stroke="#f23645"/>
<text x="1765" y="670.6" fill="#f23645">110,472.34</text>
<rect x="1758" y="686.3" width="71" height="30.7" rx="2" fill="#089981"/>
<text x="1765" y="698.5" fill="#fff">110,037.78</text>
<text x="1765" y="711.8" fill="#fff" fill-opacity="0.82">28:58</text>
</g>

<!-- ===== Time axis labels ===== -->
<g font-size="12" fill="#131722" text-anchor="middle">
<text x="27.6" y="409.5">06:00</text>
<text x="112.5" y="409.5">12:00</text>
<text x="198.5" y="409.5">18:00</text>
<text x="283.4" y="409.5">30</text>
<text x="368.3" y="409.5">06:00</text>

<text x="484.6" y="409.5">06:00</text>
<text x="570.6" y="409.5">12:00</text>
<text x="656.1" y="409.5">18:00</text>
<text x="741.6" y="409.5">30</text>
<text x="827" y="409.5">06:00</text>

<text x="944" y="409.5">07:00</text>
<text x="1020.7" y="409.5">12:00</text>
<text x="1113.1" y="409.5">18:00</text>
<text x="1205" y="409.5">30</text>
<text x="1297.4" y="409.5">07:00</text>

<text x="1401" y="409.5">07:00</text>
<text x="1476.5" y="409.5">12:00</text>
<text x="1567.2" y="409.5">18:00</text>
<text x="1657.9" y="409.5">30</text>
<text x="1748.6" y="409.5">07:00</text>

<text x="82.8" y="808">06:00</text>
<text x="148.5" y="808">12:00</text>
<text x="227" y="808">18:00</text>
<text x="306.7" y="808">30</text>
<text x="385.7" y="808">06:00</text>

<text x="487" y="808">07:00</text>
<text x="565.4" y="808">12:00</text>
<text x="659.6" y="808">18:00</text>
<text x="753.2" y="808">30</text>
<text x="847.4" y="808">07:00</text>

<text x="943.3" y="808">07:00</text>
<text x="1017.8" y="808">12:00</text>
<text x="1107.3" y="808">18:00</text>
<text x="1196.3" y="808">30</text>
<text x="1285.8" y="808">07:00</text>

<text x="1398.6" y="808">06:00</text>
<text x="1480" y="808">12:00</text>
<text x="1561.4" y="808">18:00</text>
<text x="1643.4" y="808">30</text>
<text x="1725.3" y="808">06:00</text>
</g>

<!-- Z / A buttons -->
<circle cx="38" cy="805" r="8.5" fill="#f0f0f0"/>
<text x="38" y="809" font-size="11" fill="#787b86" text-anchor="middle">Z</text>
<circle cx="436" cy="805" r="8.5" fill="#f0f0f0"/>
<text x="436" y="809" font-size="11" fill="#787b86" text-anchor="middle">A</text>

<!-- TradingView logo -->
<g fill="#131722">
<path d="M12 840H25V855H19V846H12Z"/>
<circle cx="29.5" cy="843" r="3"/>
<path d="M35 840H42L36 855H29Z"/>
<text x="48" y="855" font-size="20" font-weight="bold" textLength="122" lengthAdjust="spacingAndGlyphs">TradingView</text>
</g>
</svg>
</body></html>
